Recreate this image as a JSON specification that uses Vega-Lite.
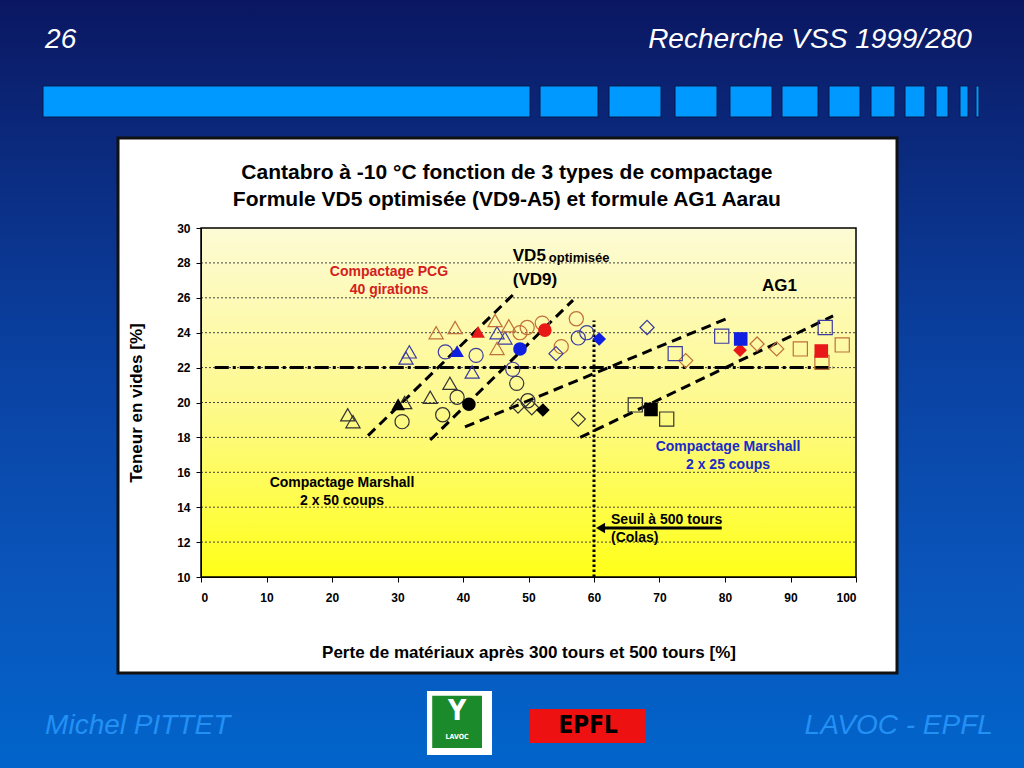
{
  "$schema": "https://vega.github.io/schema/vega-lite/v6.json",
  "width": 655,
  "height": 349,
  "autosize": "none",
  "padding": {"left": 201, "top": 228, "right": 168, "bottom": 191},
  "background": "#0a3f9e",
  "config": {
    "view": {"stroke": null},
    "font": "Liberation Sans",
    "axis": {
      "grid": false, "labelOverlap": false,
      "labelFont": "Liberation Sans", "labelFontWeight": "bold", "labelFontSize": 12, "labelColor": "#000000",
      "tickColor": "#000000", "domainColor": "#000000", "tickSize": 5, "domainWidth": 1,
      "titleFont": "Liberation Sans", "titleFontSize": 17, "titleFontWeight": "bold", "titleColor": "#000000"
    }
  },
  "datasets": {
    "individuels": [
      {"forme": "triangle", "groupe": "Marshall 2x50", "x": 22.4, "y": 19.3},
      {"forme": "triangle", "groupe": "Marshall 2x50", "x": 23.2, "y": 18.9},
      {"forme": "triangle", "groupe": "Marshall 2x50", "x": 31.1, "y": 20.0},
      {"forme": "triangle", "groupe": "Marshall 2x50", "x": 35.0, "y": 20.3},
      {"forme": "triangle", "groupe": "Marshall 2x50", "x": 38.0, "y": 21.1},
      {"forme": "triangle", "groupe": "Marshall 2x25", "x": 31.8, "y": 22.9},
      {"forme": "triangle", "groupe": "Marshall 2x25", "x": 31.3, "y": 22.55},
      {"forme": "triangle", "groupe": "Marshall 2x25", "x": 41.4, "y": 21.75},
      {"forme": "triangle", "groupe": "Marshall 2x25", "x": 45.2, "y": 24.0},
      {"forme": "triangle", "groupe": "Marshall 2x25", "x": 46.4, "y": 23.7},
      {"forme": "triangle", "groupe": "PCG 40", "x": 35.9, "y": 24.0},
      {"forme": "triangle", "groupe": "PCG 40", "x": 38.8, "y": 24.3},
      {"forme": "triangle", "groupe": "PCG 40", "x": 44.9, "y": 24.7},
      {"forme": "triangle", "groupe": "PCG 40", "x": 47.0, "y": 24.4},
      {"forme": "triangle", "groupe": "PCG 40", "x": 45.2, "y": 23.1},
      {"forme": "circle", "groupe": "Marshall 2x50", "x": 30.7, "y": 18.9},
      {"forme": "circle", "groupe": "Marshall 2x50", "x": 36.9, "y": 19.3},
      {"forme": "circle", "groupe": "Marshall 2x50", "x": 39.1, "y": 20.3},
      {"forme": "circle", "groupe": "Marshall 2x50", "x": 49.9, "y": 20.1},
      {"forme": "circle", "groupe": "Marshall 2x50", "x": 48.2, "y": 21.1},
      {"forme": "circle", "groupe": "Marshall 2x25", "x": 37.3, "y": 22.9},
      {"forme": "circle", "groupe": "Marshall 2x25", "x": 42.0, "y": 22.7},
      {"forme": "circle", "groupe": "Marshall 2x25", "x": 47.6, "y": 21.9},
      {"forme": "circle", "groupe": "Marshall 2x25", "x": 57.6, "y": 23.7},
      {"forme": "circle", "groupe": "Marshall 2x25", "x": 58.9, "y": 24.0},
      {"forme": "circle", "groupe": "PCG 40", "x": 48.7, "y": 24.0},
      {"forme": "circle", "groupe": "PCG 40", "x": 49.8, "y": 24.3},
      {"forme": "circle", "groupe": "PCG 40", "x": 52.1, "y": 24.55},
      {"forme": "circle", "groupe": "PCG 40", "x": 57.3, "y": 24.8},
      {"forme": "circle", "groupe": "PCG 40", "x": 55.0, "y": 23.2},
      {"forme": "diamond", "groupe": "Marshall 2x50", "x": 48.4, "y": 19.8},
      {"forme": "diamond", "groupe": "Marshall 2x50", "x": 50.5, "y": 19.7},
      {"forme": "diamond", "groupe": "Marshall 2x50", "x": 57.6, "y": 19.05},
      {"forme": "diamond", "groupe": "Marshall 2x25", "x": 68.1, "y": 24.3},
      {"forme": "diamond", "groupe": "Marshall 2x25", "x": 54.2, "y": 22.8},
      {"forme": "diamond", "groupe": "PCG 40", "x": 74.0, "y": 22.4},
      {"forme": "diamond", "groupe": "PCG 40", "x": 84.9, "y": 23.35},
      {"forme": "diamond", "groupe": "PCG 40", "x": 87.9, "y": 23.07},
      {"forme": "square", "groupe": "Marshall 2x50", "x": 66.3, "y": 19.86},
      {"forme": "square", "groupe": "Marshall 2x50", "x": 71.1, "y": 19.05},
      {"forme": "square", "groupe": "Marshall 2x25", "x": 72.4, "y": 22.8},
      {"forme": "square", "groupe": "Marshall 2x25", "x": 79.5, "y": 23.8},
      {"forme": "square", "groupe": "Marshall 2x25", "x": 95.3, "y": 24.3},
      {"forme": "square", "groupe": "PCG 40", "x": 91.5, "y": 23.07},
      {"forme": "square", "groupe": "PCG 40", "x": 94.8, "y": 22.3},
      {"forme": "square", "groupe": "PCG 40", "x": 97.9, "y": 23.3}
    ],
    "moyennes": [
      {"forme": "triangle", "groupe": "Marshall 2x50", "x": 30.1, "y": 19.9},
      {"forme": "triangle", "groupe": "Marshall 2x25", "x": 39.1, "y": 22.95},
      {"forme": "triangle", "groupe": "PCG 40", "x": 42.3, "y": 24.05},
      {"forme": "circle", "groupe": "Marshall 2x50", "x": 40.9, "y": 19.9},
      {"forme": "circle", "groupe": "Marshall 2x25", "x": 48.7, "y": 23.07},
      {"forme": "circle", "groupe": "PCG 40", "x": 52.5, "y": 24.15},
      {"forme": "diamond", "groupe": "Marshall 2x50", "x": 52.2, "y": 19.57},
      {"forme": "diamond", "groupe": "Marshall 2x25", "x": 60.8, "y": 23.64},
      {"forme": "diamond", "groupe": "PCG 40", "x": 82.3, "y": 23.0},
      {"forme": "square", "groupe": "Marshall 2x50", "x": 68.7, "y": 19.6},
      {"forme": "square", "groupe": "Marshall 2x25", "x": 82.4, "y": 23.64},
      {"forme": "square", "groupe": "PCG 40", "x": 94.7, "y": 22.95}
    ],
    "tendances": [
      {"droite": "VD5 a", "x": 25.5, "y": 18.1},
      {"droite": "VD5 a", "x": 47.6, "y": 26.16},
      {"droite": "VD5 b", "x": 35.0, "y": 17.85},
      {"droite": "VD5 b", "x": 56.8, "y": 25.87},
      {"droite": "AG1 a", "x": 40.3, "y": 18.6},
      {"droite": "AG1 a", "x": 80.5, "y": 24.84},
      {"droite": "AG1 b", "x": 57.9, "y": 18.0},
      {"droite": "AG1 b", "x": 96.5, "y": 24.96}
    ]
  },
  "layer": [
    {
      "data": {"values": [{"x": -32, "x2": 127, "y": -2, "y2": 45}]},
      "mark": {"type": "rect", "fill": {"gradient": "linear", "x1": 0, "y1": 0, "x2": 0, "y2": 1, "stops": [
        {"offset": 0, "color": "#00005e"}, {"offset": 0.018, "color": "#00005e"}, {"offset": 0.022, "color": "#0a145e"},
        {"offset": 0.15, "color": "#0b2373"}, {"offset": 0.45, "color": "#0a3f9e"}, {"offset": 0.75, "color": "#0a55bb"}, {"offset": 1, "color": "#0066cc"}]}},
      "encoding": {
        "x": {"field": "x", "type": "quantitative", "scale": {"domain": [0, 100]}},
        "x2": {"field": "x2"},
        "y": {"field": "y", "type": "quantitative", "scale": {"domain": [10, 30]}},
        "y2": {"field": "y2"}
      }
    },
    {
      "data": {"values": [
        {"x": -24.12, "x2": 50.23}, {"x": 51.76, "x2": 60.61}, {"x": 62.29, "x2": 70.23}, {"x": 72.37, "x2": 78.78},
        {"x": 80.76, "x2": 87.18}, {"x": 88.7, "x2": 94.2}, {"x": 95.88, "x2": 100.61}, {"x": 102.29, "x2": 105.95},
        {"x": 107.48, "x2": 110.53}, {"x": 112.21, "x2": 114.05}, {"x": 115.88, "x2": 117.1}, {"x": 118.32, "x2": 118.78}]},
      "mark": {"type": "rect", "fill": "#0099ff", "stroke": "#08184a", "strokeWidth": 1},
      "encoding": {
        "x": {"field": "x", "type": "quantitative"},
        "x2": {"field": "x2"},
        "y": {"datum": 38.14, "type": "quantitative"},
        "y2": {"datum": 36.36}
      }
    },
    {
      "data": {"values": [{"x": -12.67, "x2": 106.26, "y": 4.5, "y2": 35.16}]},
      "mark": {"type": "rect", "fill": "#ffffff", "stroke": "#111111", "strokeWidth": 3},
      "encoding": {
        "x": {"field": "x", "type": "quantitative"}, "x2": {"field": "x2"},
        "y": {"field": "y", "type": "quantitative"}, "y2": {"field": "y2"}
      }
    },
    {
      "data": {"values": [{"x": 0, "x2": 100, "y": 10, "y2": 30}]},
      "mark": {"type": "rect", "stroke": "#000000", "strokeWidth": 1.5, "fill": {"gradient": "linear", "x1": 0, "y1": 0, "x2": 0, "y2": 1, "stops": [
        {"offset": 0, "color": "#fdfbd4"}, {"offset": 0.5, "color": "#fdf98e"}, {"offset": 1, "color": "#ffff18"}]}},
      "encoding": {
        "x": {"field": "x", "type": "quantitative"}, "x2": {"field": "x2"},
        "y": {"field": "y", "type": "quantitative"}, "y2": {"field": "y2"}
      }
    },
    {
      "data": {"values": [{"y": 12}, {"y": 14}, {"y": 16}, {"y": 18}, {"y": 20}, {"y": 22}, {"y": 24}, {"y": 26}, {"y": 28}]},
      "mark": {"type": "rule", "stroke": "#444444", "strokeWidth": 1, "strokeDash": [2, 2]},
      "encoding": {"y": {"field": "y", "type": "quantitative"}, "x": {"datum": 0}, "x2": {"datum": 100}}
    },
    {
      "data": {"name": "tendances"},
      "mark": {"type": "line", "stroke": "#000000", "strokeWidth": 3, "strokeDash": [10, 6]},
      "encoding": {
        "x": {"field": "x", "type": "quantitative"},
        "y": {"field": "y", "type": "quantitative"},
        "detail": {"field": "droite"}
      }
    },
    {
      "data": {"values": [{}]},
      "mark": {"type": "rule", "stroke": "#000000", "strokeWidth": 3, "strokeDash": [14, 4, 3, 4]},
      "encoding": {"x": {"datum": 2.1}, "x2": {"datum": 96.5}, "y": {"datum": 22}}
    },
    {
      "data": {"values": [{}]},
      "mark": {"type": "rule", "stroke": "#000000", "strokeWidth": 3, "strokeDash": [2.5, 2.5]},
      "encoding": {"x": {"datum": 60}, "y": {"datum": 10}, "y2": {"datum": 24.7}}
    },
    {
      "data": {"name": "individuels"},
      "mark": {"type": "point", "filled": false, "strokeWidth": 1.2, "size": 200, "opacity": 1},
      "encoding": {
        "x": {"field": "x", "type": "quantitative", "scale": {"domain": [0, 100]},
          "axis": {"zindex": 1, "values": [0, 10, 20, 30, 40, 50, 60, 70, 80, 90, 100], "labelOverlap": false, "labelPadding": 10, "title": "Perte de matériaux après 300 tours et 500 tours  [%]", "titlePadding": 41}},
        "y": {"field": "y", "type": "quantitative", "scale": {"domain": [10, 30], "zero": false},
          "axis": {"zindex": 1, "values": [10, 12, 14, 16, 18, 20, 22, 24, 26, 28, 30], "tickCount": 11, "labelOverlap": false, "labelPadding": 6, "title": "Teneur en vides  [%]", "titlePadding": 31}},
        "shape": {"field": "forme", "type": "nominal", "legend": null,
          "scale": {"domain": ["triangle", "circle", "diamond", "square"], "range": ["triangle-up", "circle", "diamond", "square"]}},
        "stroke": {"field": "groupe", "type": "nominal", "legend": null,
          "scale": {"domain": ["Marshall 2x50", "Marshall 2x25", "PCG 40"], "range": ["#333333", "#3c3ca0", "#c0703a"]}}
      }
    },
    {
      "data": {"name": "moyennes"},
      "mark": {"type": "point", "filled": true, "size": 185, "opacity": 1},
      "encoding": {
        "x": {"field": "x", "type": "quantitative"},
        "y": {"field": "y", "type": "quantitative"},
        "shape": {"field": "forme", "type": "nominal", "legend": null},
        "fill": {"field": "groupe", "type": "nominal", "legend": null,
          "scale": {"domain": ["Marshall 2x50", "Marshall 2x25", "PCG 40"], "range": ["#000000", "#1020e0", "#e81818"]}}
      }
    },
    {
      "data": {"values": [{}]},
      "mark": {"type": "rule", "stroke": "#000000", "strokeWidth": 3},
      "encoding": {"x": {"datum": 61.2}, "x2": {"datum": 79.5}, "y": {"datum": 12.81}}
    },
    {
      "data": {"values": [{}]},
      "mark": {"type": "point", "shape": "triangle-left", "filled": true, "color": "#000000", "size": 110, "opacity": 1},
      "encoding": {"x": {"datum": 61.0}, "y": {"datum": 12.81}}
    },
    {
      "data": {"values": [
        {"t": "Cantabro à -10 °C fonction de 3 types de compactage", "x": 46.7, "y": 33.15},
        {"t": "Formule VD5 optimisée (VD9-A5) et formule AG1 Aarau", "x": 46.7, "y": 31.6}]},
      "mark": {"type": "text", "fontSize": 21, "fontWeight": "bold", "color": "#000000", "align": "center", "baseline": "middle"},
      "encoding": {"x": {"field": "x", "type": "quantitative"}, "y": {"field": "y", "type": "quantitative"}, "text": {"field": "t"}}
    },
    {
      "data": {"values": [
        {"t": "Compactage PCG", "x": 28.7, "y": 27.48},
        {"t": "40 girations", "x": 28.7, "y": 26.45}]},
      "mark": {"type": "text", "fontSize": 14, "fontWeight": "bold", "color": "#d42020", "align": "center", "baseline": "middle"},
      "encoding": {"x": {"field": "x", "type": "quantitative"}, "y": {"field": "y", "type": "quantitative"}, "text": {"field": "t"}}
    },
    {
      "data": {"values": [
        {"t": "Compactage Marshall", "x": 80.46, "y": 17.45},
        {"t": "2 x 25 coups", "x": 80.46, "y": 16.42}]},
      "mark": {"type": "text", "fontSize": 14, "fontWeight": "bold", "color": "#1a2ac8", "align": "center", "baseline": "middle"},
      "encoding": {"x": {"field": "x", "type": "quantitative"}, "y": {"field": "y", "type": "quantitative"}, "text": {"field": "t"}}
    },
    {
      "data": {"values": [
        {"t": "Compactage Marshall", "x": 21.53, "y": 15.39},
        {"t": "2 x 50 coups", "x": 21.53, "y": 14.36}]},
      "mark": {"type": "text", "fontSize": 14, "fontWeight": "bold", "color": "#000000", "align": "center", "baseline": "middle"},
      "encoding": {"x": {"field": "x", "type": "quantitative"}, "y": {"field": "y", "type": "quantitative"}, "text": {"field": "t"}}
    },
    {
      "data": {"values": [
        {"t": "Seuil à 500 tours", "x": 62.6, "y": 13.27},
        {"t": "(Colas)", "x": 62.6, "y": 12.23}]},
      "mark": {"type": "text", "fontSize": 14, "fontWeight": "bold", "color": "#000000", "align": "left", "baseline": "middle"},
      "encoding": {"x": {"field": "x", "type": "quantitative"}, "y": {"field": "y", "type": "quantitative"}, "text": {"field": "t"}}
    },
    {
      "data": {"values": [
        {"t": "VD5", "x": 47.6, "y": 28.4},
        {"t": "(VD9)", "x": 47.6, "y": 27.02},
        {"t": "AG1", "x": 85.65, "y": 26.68}]},
      "mark": {"type": "text", "fontSize": 17, "fontWeight": "bold", "color": "#000000", "align": "left", "baseline": "middle"},
      "encoding": {"x": {"field": "x", "type": "quantitative"}, "y": {"field": "y", "type": "quantitative"}, "text": {"field": "t"}}
    },
    {
      "data": {"values": [{"t": "optimisée", "x": 53.1, "y": 28.3}]},
      "mark": {"type": "text", "fontSize": 13, "fontWeight": "bold", "color": "#000000", "align": "left", "baseline": "middle"},
      "encoding": {"x": {"field": "x", "type": "quantitative"}, "y": {"field": "y", "type": "quantitative"}, "text": {"field": "t"}}
    },
    {
      "data": {"values": [
        {"t": "26", "x": -23.8, "y": 40.77, "a": "left"},
        {"t": "Recherche VSS 1999/280", "x": 117.7, "y": 40.77, "a": "right"}]},
      "mark": {"type": "text", "fontSize": 28, "fontStyle": "italic", "color": "#ffffff", "baseline": "middle", "align": {"expr": "datum.a"}},
      "encoding": {"x": {"field": "x", "type": "quantitative"}, "y": {"field": "y", "type": "quantitative"}, "text": {"field": "t"}}
    },
    {
      "data": {"values": [
        {"t": "Michel PITTET", "x": -23.8, "y": 1.46, "a": "left"},
        {"t": "LAVOC - EPFL", "x": 120.9, "y": 1.46, "a": "right"}]},
      "mark": {"type": "text", "fontSize": 28, "fontStyle": "italic", "color": "#2390f5", "baseline": "middle", "align": {"expr": "datum.a"}},
      "encoding": {"x": {"field": "x", "type": "quantitative"}, "y": {"field": "y", "type": "quantitative"}, "text": {"field": "t"}}
    },
    {
      "data": {"values": [
        {"x": 34.5, "x2": 44.43, "y": -0.2, "y2": 3.47, "c": "#ffffff"},
        {"x": 35.3, "x2": 42.9, "y": 0.2, "y2": 3.2, "c": "#1a8a2a"},
        {"x": 50.23, "x2": 67.94, "y": 0.49, "y2": 2.44, "c": "#ee1111"}]},
      "mark": {"type": "rect", "fill": {"expr": "datum.c"}},
      "encoding": {
        "x": {"field": "x", "type": "quantitative"}, "x2": {"field": "x2"},
        "y": {"field": "y", "type": "quantitative"}, "y2": {"field": "y2"}
      }
    },
    {
      "data": {"values": [
        {"t": "Y", "x": 39.1, "y": 2.25, "s": 28, "c": "#ffffff"},
        {"t": "LAVOC", "x": 39.1, "y": 0.85, "s": 7, "c": "#ffffff"},
        {"t": "EPFL", "x": 59.1, "y": 1.47, "s": 24, "c": "#000000"}]},
      "mark": {"type": "text", "fontWeight": "bold", "align": "center", "baseline": "middle", "font": "DejaVu Sans Condensed", "fontSize": {"expr": "datum.s"}, "fill": {"expr": "datum.c"}},
      "encoding": {"x": {"field": "x", "type": "quantitative"}, "y": {"field": "y", "type": "quantitative"}, "text": {"field": "t"}}
    }
  ]
}
